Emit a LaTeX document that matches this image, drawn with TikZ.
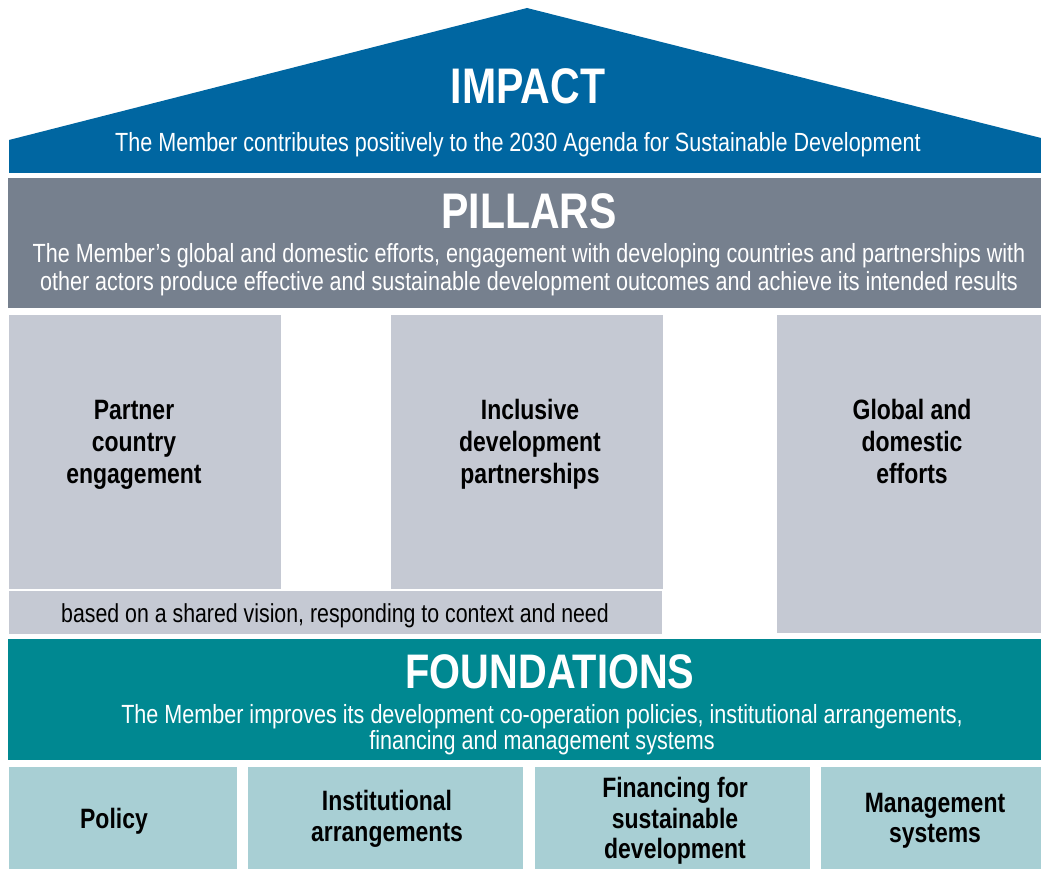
\documentclass[tikz,border=0pt]{standalone}
\usepackage{fontspec}
\setmainfont{Liberation Sans}[FakeStretch=0.82]
\definecolor{roofblue}{HTML}{0066A1}
\definecolor{pillargrey}{HTML}{76808E}
\definecolor{columngrey}{HTML}{C5C9D3}
\definecolor{baseteal}{HTML}{008891}
\definecolor{blockteal}{HTML}{A8CFD4}
\begin{document}
\begin{tikzpicture}[x=1pt,y=-1pt,
  title/.style={text=white,font=\fontsize{50}{50}\selectfont\bfseries,inner sep=0pt},
  subtitle/.style={text=white,font=\fontsize{26.3}{28}\selectfont,align=center,inner sep=0pt},
  panel/.style={anchor=north west,inner sep=0pt,outer sep=0pt},
  colbox/.style={panel,fill=columngrey},
  blockbox/.style={panel,fill=blockteal},
  label/.style={font=\fontsize{28}{32}\selectfont\bfseries,align=center,inner sep=0pt},
  blocklabel/.style={font=\fontsize{28}{30.5}\selectfont\bfseries,align=center,inner sep=0pt}]
  \useasboundingbox[fill=white] (0,0) rectangle (1041,869);

  % roof
  \fill[roofblue] (9,173) -- (9,140) -- (527,8) -- (1041,138) -- (1041,173) -- cycle;
  \node[title] (impact) at (528,86) {IMPACT};
  \node[subtitle] (impactText) at (518,145) {The Member contributes positively to the 2030 Agenda for Sustainable Development};

  % pillars band
  \node[panel,fill=pillargrey,minimum width=1033pt,minimum height=130pt] (pillars) at (8,178) {};
  \node[title] (pillarsTitle) at (529,211) {PILLARS};
  \node[subtitle] (pillarsText) at (529,270) {The Member’s global and domestic efforts, engagement with developing countries and partnerships with\\other actors produce effective and sustainable development outcomes and achieve its intended results};

  % columns
  \node[colbox,minimum width=272pt,minimum height=274pt] (col1) at (9,315) {};
  \node[colbox,minimum width=272pt,minimum height=274pt] (col2) at (391,315) {};
  \node[colbox,minimum width=264pt,minimum height=318pt] (col3) at (777,315) {};
  \node[colbox,minimum width=653pt,minimum height=43pt] (strip) at (9,591) {};
  \node[label] at (134,445) {Partner\\country\\engagement};
  \node[label] at (530,444) {Inclusive\\development\\partnerships};
  \node[label] at (912,441) {Global and\\domestic\\efforts};
  \node[font=\fontsize{26}{28}\selectfont,inner sep=0pt] (stripText) at (335,616) {based on a shared vision, responding to context and need};

  % foundations band
  \node[panel,fill=baseteal,minimum width=1033pt,minimum height=121pt] (foundations) at (8,639) {};
  \node[title,font=\fontsize{48.5}{48.5}\selectfont\bfseries] (foundTitle) at (550,672) {FOUNDATIONS};
  \node[subtitle,font=\fontsize{26.3}{26}\selectfont] (foundText) at (542,730) {The Member improves its development co-operation policies, institutional arrangements,\\financing and management systems};

  % foundation blocks
  \node[blockbox,minimum width=228pt,minimum height=102pt] (b1) at (9,767) {};
  \node[blockbox,minimum width=275pt,minimum height=102pt] (b2) at (248,767) {};
  \node[blockbox,minimum width=275pt,minimum height=102pt] (b3) at (535,767) {};
  \node[blockbox,minimum width=220pt,minimum height=102pt] (b4) at (821,767) {};
  \node[blocklabel] at (114,821) {Policy};
  \node[blocklabel] at (387,819) {Institutional\\arrangements};
  \node[blocklabel] at (675,821) {Financing for\\sustainable\\development};
  \node[blocklabel] at (935,821) {Management\\systems};
\end{tikzpicture}
\end{document}
